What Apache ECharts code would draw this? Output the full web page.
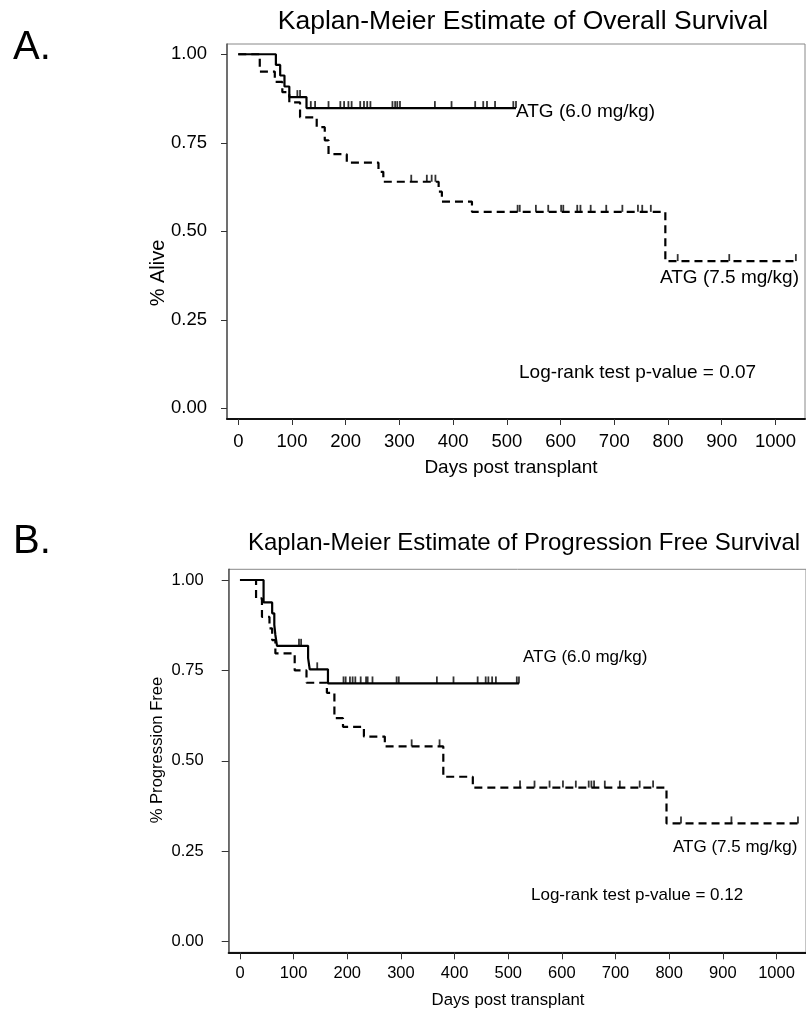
<!DOCTYPE html>
<html>
<head>
<meta charset="utf-8">
<script src="https://cdn.jsdelivr.net/npm/echarts@6/dist/echarts.min.js"></script>
<style>
  html, body { margin: 0; padding: 0; background: #fff; }
  #chart { width: 806px; height: 1011px; }
</style>
</head>
<body>
<div id="chart"></div>
<script>
// A. overall survival, ATG 6.0 mg/kg
var osLowTimes = [0, 70, 78, 86, 95, 127, 517];
var osLowSurv = [1.0, 0.970, 0.940, 0.909, 0.879, 0.848, 0.848];
var osLowCensor = [110, 115, 135, 143, 168, 190, 197, 205, 211, 227, 234, 240, 246,
  287, 292, 296, 301, 366, 397, 441, 456, 463, 478, 512, 517];

// A. overall survival, ATG 7.5 mg/kg
var osHighTimes = [0, 40, 68, 82, 95, 115, 146, 161, 168, 202, 261, 270, 373, 379, 435, 795, 1038];
var osHighSurv = [1.0, 0.951, 0.922, 0.893, 0.864, 0.822, 0.794, 0.757, 0.718, 0.694,
  0.668, 0.640, 0.612, 0.584, 0.555, 0.416, 0.416];
var osHighCensor = [322, 351, 360, 367, 520, 524, 554, 577, 601, 605, 631, 637, 656,
  685, 715, 744, 752, 768, 818, 914, 1038];

// B. progression free survival, ATG 6.0 mg/kg
var pfsLowTimes = [0, 44, 60, 64, 66, 69, 127, 130, 164, 520];
var pfsLowSurv = [1.0, 0.938, 0.908, 0.876, 0.848, 0.818, 0.784, 0.753, 0.714, 0.714];
var pfsLowCensor = [110, 114, 144, 193, 197, 205, 210, 215, 225, 235, 238, 247, 292, 296,
  367, 398, 443, 458, 463, 470, 477, 516, 520];

// B. progression free survival, ATG 7.5 mg/kg
var pfsHighTimes = [0, 30, 41, 55, 60, 66, 102, 124, 162, 176, 192, 231, 270, 379, 434, 795, 1040];
var pfsHighSurv = [1.0, 0.949, 0.898, 0.866, 0.834, 0.797, 0.750, 0.716, 0.688, 0.618,
  0.594, 0.567, 0.540, 0.456, 0.426, 0.327, 0.327];
var pfsHighCensor = [320, 372, 522, 549, 577, 602, 626, 650, 655, 660, 680, 708, 745, 770,
  822, 916, 1040];

var xTicks = [0, 100, 200, 300, 400, 500, 600, 700, 800, 900, 1000];
var yTicks = [0, 0.25, 0.5, 0.75, 1];

var FONT = "'Liberation Sans', Arial, Helvetica, sans-serif";

function pairs(times, surv) {
  var out = [];
  for (var i = 0; i < times.length; i++) out.push([times[i], surv[i]]);
  return out;
}

// survival level in effect at time t (for censor marks)
function levelAt(times, surv, t) {
  var s = surv[0];
  for (var i = 0; i < times.length; i++) {
    if (times[i] <= t) s = surv[i];
  }
  return s;
}

function censorPoints(times, surv, censor) {
  return censor.map(function (t) {
    return [t, levelAt(times, surv, t)];
  });
}

function stepSeries(idx, data, dashed) {
  return {
    type: "line",
    xAxisIndex: idx,
    yAxisIndex: idx,
    step: "end",
    data: data,
    symbol: "none",
    silent: true,
    lineStyle: {
      color: "#000",
      width: 2.2,
      type: dashed ? [8, 5] : "solid",
      cap: "butt"
    }
  };
}

function censorSeries(idx, data) {
  return {
    type: "scatter",
    xAxisIndex: idx,
    yAxisIndex: idx,
    data: data,
    symbol: "rect",
    symbolSize: [1.8, 7],
    symbolOffset: [0, -3.5],
    silent: true,
    itemStyle: { color: "#000" }
  };
}

function xAxisFor(idx, fontSize, tickLen, margin) {
  return {
    type: "value",
    gridIndex: idx,
    min: -21,
    max: 1055,
    splitLine: { show: false },
    axisLine: { show: true, onZero: false, lineStyle: { color: "#111", width: 2 } },
    axisTick: { show: true, customValues: xTicks, length: tickLen, lineStyle: { color: "#333" } },
    axisLabel: {
      customValues: xTicks,
      margin: margin,
      fontSize: fontSize,
      fontFamily: FONT,
      color: "#000",
      formatter: function (v) { return String(v); }
    }
  };
}

function yAxisFor(idx, min, max, fontSize, tickLen, margin) {
  return {
    type: "value",
    gridIndex: idx,
    min: min,
    max: max,
    splitLine: { show: false },
    axisLine: { show: true, onZero: false, lineStyle: { color: "#555", width: 1.5 } },
    axisTick: { show: true, customValues: yTicks, length: tickLen, lineStyle: { color: "#333" } },
    axisLabel: {
      customValues: yTicks,
      margin: margin,
      fontSize: fontSize,
      fontFamily: FONT,
      color: "#000",
      formatter: function (v) { return v.toFixed(2); }
    }
  };
}

function label(text, x, y, size, align, rotate) {
  return {
    type: "text",
    x: x,
    y: y,
    rotation: rotate || 0,
    silent: true,
    style: {
      text: text,
      fontSize: size,
      fontFamily: FONT,
      fill: "#000",
      textAlign: align || "left",
      textVerticalAlign: "middle"
    }
  };
}

var chart = echarts.init(document.getElementById("chart"), null, { renderer: "canvas" });

var option = {
  animation: false,
  backgroundColor: "#fff",
  grid: [
    { left: 227, top: 44, width: 578, height: 375, show: true, borderColor: "#888", borderWidth: 1 },
    { left: 228.7, top: 569.3, width: 590.3, height: 383, show: true, borderColor: "#888", borderWidth: 1 }
  ],
  xAxis: [
    xAxisFor(0, 18.5, 6, 13),
    xAxisFor(1, 16.5, 7, 13)
  ],
  yAxis: [
    yAxisFor(0, -0.030, 1.029, 18.5, 6, 20),
    yAxisFor(1, -0.0293, 1.0296, 16.5, 7, 25)
  ],
  series: [
    stepSeries(0, pairs(osLowTimes, osLowSurv), false),
    censorSeries(0, censorPoints(osLowTimes, osLowSurv, osLowCensor)),
    stepSeries(0, pairs(osHighTimes, osHighSurv), true),
    censorSeries(0, censorPoints(osHighTimes, osHighSurv, osHighCensor)),
    stepSeries(1, pairs(pfsLowTimes, pfsLowSurv), false),
    censorSeries(1, censorPoints(pfsLowTimes, pfsLowSurv, pfsLowCensor)),
    stepSeries(1, pairs(pfsHighTimes, pfsHighSurv), true),
    censorSeries(1, censorPoints(pfsHighTimes, pfsHighSurv, pfsHighCensor))
  ],
  graphic: [
    label("A.", 13, 48, 40),
    label("B.", 13, 542, 40),
    label("Kaplan-Meier Estimate of Overall Survival", 523, 22, 26.5, "center"),
    label("Kaplan-Meier Estimate of Progression Free Survival", 524, 543, 24, "center"),
    label("% Alive", 158, 273, 20, "center", Math.PI / 2),
    label("% Progression Free", 157, 750, 16.6, "center", Math.PI / 2),
    label("Days post transplant", 511, 468, 19, "center"),
    label("Days post transplant", 508, 1000, 16.8, "center"),
    label("ATG (6.0 mg/kg)", 516, 112, 19),
    label("ATG (7.5 mg/kg)", 660, 278, 19),
    label("Log-rank test p-value = 0.07", 519, 373, 19),
    label("ATG (6.0 mg/kg)", 523, 657, 17),
    label("ATG (7.5 mg/kg)", 673, 847, 17),
    label("Log-rank test p-value = 0.12", 531, 895, 17)
  ]
};

chart.setOption(option);
</script>
</body>
</html>
